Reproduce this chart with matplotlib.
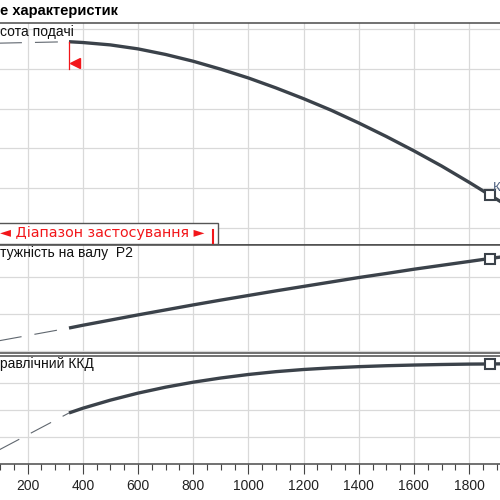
import matplotlib
matplotlib.use("Agg")
import matplotlib.pyplot as plt
from matplotlib.patches import Rectangle
from matplotlib.lines import Line2D
from matplotlib.ticker import MultipleLocator

plt.rcParams['font.family'] = ['Liberation Sans', 'DejaVu Sans']
plt.rcParams['lines.scale_dashes'] = False

#
# робоча характеристика
flow = [350, 400, 500, 600, 700, 800, 900, 1000, 1100, 1200, 1300, 1400, 1500, 1600, 1700, 1800, 1875, 1920]
head = [56.8, 56.6, 56.0, 55.0, 53.6, 51.9, 49.9, 47.7, 45.2, 42.5, 39.6, 36.4, 33.0, 29.4, 25.6, 21.5, 18.3, 16.4]
power = [3.24, 3.39, 3.67, 3.95, 4.22, 4.49, 4.75, 5.00, 5.25, 5.49, 5.73, 5.97, 6.19, 6.42, 6.63, 6.84, 7.00, 7.09]
efficiency = [37.8, 41.3, 47.3, 52.5, 56.9, 60.6, 63.7, 66.3, 68.4, 70.0, 71.2, 72.1, 72.8, 73.3, 73.7, 74.0, 74.1, 74.2]

# продовження кривих поза діапазоном (штрихом)
flow_dash = [0, 350]
head_dash = [56.3, 56.8]
power_dash = [2.29, 3.24]
efficiency_dash = [0, 37.8]

flow_start = 350
flow_end = 1875
end_index = flow.index(flow_end)

xticks = [200, 400, 600, 800, 1000, 1200, 1400, 1600, 1800]

curve_color = '#3b424a'
dash_color = '#60676f'
grid_color = '#d9d9d9'
frame_color = '#4a4a4a'
red = '#f2161a'

W = 500.0
def fx(x):
    return x / W
def fy(y):
    return 1 - y / W

fig = plt.figure(figsize=(5, 5), dpi=100)

# панелі: (верх, низ) у пікселях, межі осей
panels = [(23, 245, (5.75, 61.5), [10, 20, 30, 40, 50, 60]),
          (245, 353, (1.89, 7.73), [2, 4, 6]),
          (356, 464, (0, 80), [20, 40, 60])]
series = [(head, head_dash), (power, power_dash), (efficiency, efficiency_dash)]

axes = []
for (top, bottom, ylim, ygrid), (yvals, ydash) in zip(panels, series):
    ax = fig.add_axes([0, fy(bottom), 1, (bottom - top) / W])
    ax.set_xlim(100, 1912)
    ax.set_ylim(*ylim)
    ax.set_xticks(xticks)
    ax.set_yticks(ygrid)
    ax.grid(True, color=grid_color, lw=0.9)
    ax.set_axisbelow(True)
    ax.tick_params(left=False, labelleft=False, bottom=False, labelbottom=False)
    for side in ['left', 'right']:
        ax.spines[side].set_visible(False)
    for side in ['top', 'bottom']:
        ax.spines[side].set_color(frame_color)
        ax.spines[side].set_linewidth(1.1)
    ax.plot(flow_dash, ydash, color=dash_color, lw=0.8, dashes=(16.5, 9.4))
    ax.plot(flow, yvals, color=curve_color, lw=2.4, solid_capstyle='butt',
            marker='s', markevery=[end_index], ms=6.5, mfc='white', mec=curve_color, mew=1.5)
    axes.append(ax)

ax1, ax2, ax3 = axes

# межа діапазону застосування
ax1.plot([flow_start, flow_start], [head[0], 50], color=red, lw=0.9)
ax1.plot([flow_start + 22], [51.5], marker='<', color=red, ms=7.5, lw=0)

# нижня вісь
ax3.tick_params(bottom=True, labelbottom=True, which='major', length=7, width=0.8,
                color='#444444', pad=3.8, labelsize=10, labelcolor='#222222')
ax3.xaxis.set_minor_locator(MultipleLocator(50))
ax3.tick_params(which='minor', bottom=True, length=4.5, width=0.8, color='#444444')

# підписи
fig.text(fx(0), fy(15), 'е характеристик', fontsize=10.5, fontweight='bold', va='baseline', ha='left')
fig.text(fx(0), fy(36), 'сота подачі', fontsize=10, va='baseline', ha='left', color='#111111')
fig.text(fx(0), fy(257), 'тужність на валу  P2', fontsize=10, va='baseline', ha='left', color='#111111')
fig.text(fx(0), fy(368), 'равлічний ККД', fontsize=10, va='baseline', ha='left', color='#111111')
fig.text(fx(493), fy(191), 'К', fontsize=9.5, va='baseline', ha='left', color='#4f6180')

fig.patches.append(Rectangle((fx(-5), fy(244)), 223 / W, 21 / W, transform=fig.transFigure,
                             facecolor='white', edgecolor='#555555', lw=1.0, zorder=2))
fig.text(fx(0.5), fy(237.5), '◄ Діапазон застосування ►', fontsize=10.3, va='baseline', ha='left',
         color=red, zorder=3, family='DejaVu Sans')
fig.lines.append(Line2D([fx(213), fx(213)], [fy(230), fy(243)], transform=fig.transFigure,
                        color=red, lw=1.5, zorder=3))

fig.savefig('out.png', dpi=100)
